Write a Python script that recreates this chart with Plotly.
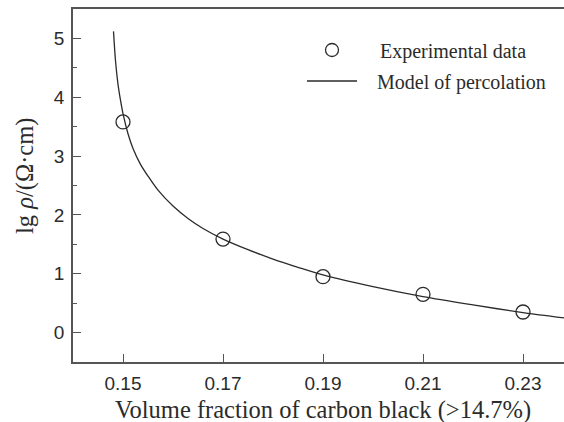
import plotly.graph_objects as go

# Measured resistivity points
vol_frac = [0.15, 0.17, 0.19, 0.21, 0.23]
lg_rho = [3.58, 1.59, 0.95, 0.65, 0.35]

# Percolation model curve, sampled along the fitted line
model_x = [0.1481, 0.1485, 0.1490, 0.1495, 0.1500, 0.1510, 0.1520, 0.1535, 0.1550,
           0.1570, 0.1600, 0.1630, 0.1660, 0.1700, 0.1750, 0.1800, 0.1850, 0.1900,
           0.2000, 0.2100, 0.2200, 0.2300, 0.2382]
model_y = [5.12, 4.62, 4.22, 3.95, 3.72, 3.38, 3.13, 2.86, 2.66,
           2.42, 2.15, 1.94, 1.77, 1.59, 1.41, 1.25, 1.11, 0.98,
           0.78, 0.61, 0.47, 0.34, 0.25]

x_ticks = [0.15, 0.17, 0.19, 0.21, 0.23]
y_ticks = [0, 1, 2, 3, 4, 5]

ink = "#2b2b2b"
axis_col = "#555555"

# plot area in pixels
L, T, W, H = 73, 9, 491, 353


def px(x):
    return (x - L) / W


def py(y):
    return (T + H - y) / H


fig = go.Figure()
fig.add_trace(go.Scatter(x=model_x, y=model_y, mode="lines",
                         line=dict(color=ink, width=1.3, shape="spline", smoothing=0.8),
                         showlegend=False, hoverinfo="skip"))
fig.add_trace(go.Scatter(x=vol_frac, y=lg_rho, mode="markers",
                         marker=dict(symbol="circle-open", size=14, color=ink,
                                     line=dict(width=1.3, color=ink)),
                         showlegend=False))

# Legend drawn by hand: open circle and line sample with serif labels
fig.add_shape(type="circle", xref="paper", yref="paper",
              x0=px(325.5), x1=px(338.5), y0=py(56.5), y1=py(43.5),
              line=dict(color=ink, width=1.3))
fig.add_shape(type="line", xref="paper", yref="paper",
              x0=px(307), x1=px(357), y0=py(81), y1=py(81),
              line=dict(color=ink, width=1.3))
legend_font = dict(family="Liberation Serif, Times New Roman, serif", size=20, color=ink)
fig.add_annotation(xref="paper", yref="paper", x=px(378), y=py(51),
                   text="Experimental data", showarrow=False, xanchor="left",
                   yanchor="middle", font=legend_font)
fig.add_annotation(xref="paper", yref="paper", x=px(375), y=py(82),
                   text="Model of percolation", showarrow=False, xanchor="left",
                   yanchor="middle", font=legend_font)

tick_font = dict(family="Liberation Sans, Arial, sans-serif", size=19, color=ink)
title_font = dict(family="Liberation Serif, Times New Roman, serif", size=24.5, color=ink)

# Axis titles
fig.add_annotation(xref="paper", yref="paper", x=px(323), y=py(410),
                   text="Volume fraction of carbon black (>14.7%)", showarrow=False,
                   xanchor="center", yanchor="middle", font=title_font)
fig.add_annotation(xref="paper", yref="paper", x=px(25), y=py(176),
                   text="lg <i>ρ</i>/(Ω·cm)", showarrow=False, textangle=-90,
                   xanchor="center", yanchor="middle", font=title_font)

fig.update_xaxes(range=[0.14, 0.2382], tickvals=x_ticks, ticktext=[f"{v:.2f}" for v in x_ticks],
                 ticks="inside", ticklen=8, tickwidth=1.2, tickcolor=axis_col,
                 showline=True, linecolor=axis_col, linewidth=1.6, mirror=True,
                 showgrid=False, zeroline=False, tickfont=tick_font, ticklabelstandoff=3)
fig.update_yaxes(range=[-0.5, 5.5], tickvals=y_ticks,
                 ticks="inside", ticklen=8, tickwidth=1.2, tickcolor=axis_col,
                 minor=dict(dtick=0.5, ticks="inside", ticklen=4, tickcolor=axis_col, tickwidth=1.2),
                 showline=True, linecolor=axis_col, linewidth=1.6, mirror=False,
                 showgrid=False, zeroline=False, tickfont=tick_font, ticklabelstandoff=3)

fig.update_layout(width=564, height=422, margin=dict(l=L, r=0, t=T, b=422 - T - H),
                  plot_bgcolor="white", paper_bgcolor="white")

fig.write_html("out.html")
